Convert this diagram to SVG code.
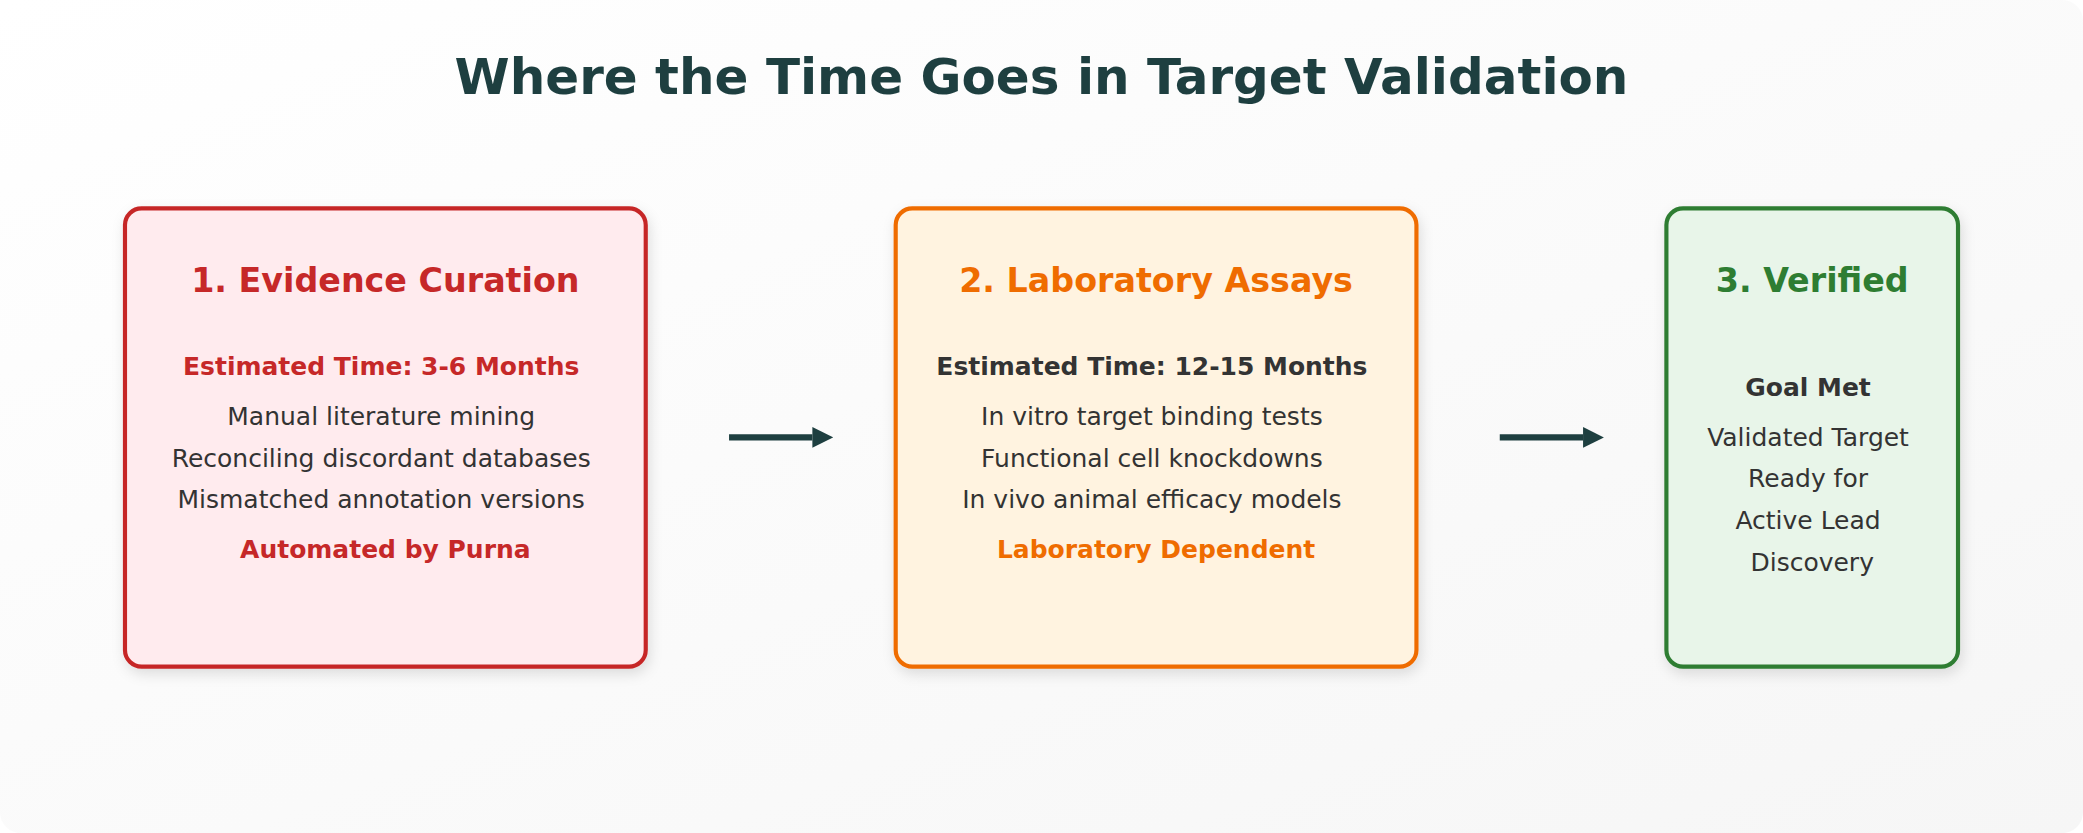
<svg xmlns="http://www.w3.org/2000/svg" width="2083" height="833" viewBox="0 0 2083 833">
<defs>
<linearGradient id="bg" x1="0" y1="0" x2="1" y2="1">
<stop offset="0" stop-color="#ffffff"/>
<stop offset="1" stop-color="#f6f6f6"/>
</linearGradient>
<filter id="sh" x="-10%" y="-10%" width="125%" height="125%">
<feDropShadow dx="2" dy="5" stdDeviation="6" flood-color="#000" flood-opacity="0.12"/>
</filter>
<marker id="ah" viewBox="0 0 20 20" refX="0" refY="10" markerWidth="20" markerHeight="20" markerUnits="userSpaceOnUse" orient="auto">
<path d="M0,0 L20,10 L0,20 Z" fill="#1e3f40"/>
</marker>
</defs>
<style>
text{font-family:"DejaVu Sans","Liberation Sans",sans-serif;text-anchor:middle}
.title{font-size:48px;font-weight:bold;fill:#1e3f40}
.h{font-size:32px;font-weight:bold}
.b{font-size:24px;font-weight:bold}
.t{font-size:24px;fill:#333333}
.dark{fill:#333333}
.box{stroke-width:4;filter:url(#sh)}
.conn{stroke:#1e3f40;stroke-width:6;fill:none}
</style>
<rect x="0" y="0" width="2083" height="833" fill="#ffffff"/>
<g transform="scale(1.0415)">
<rect x="0" y="0" width="2000" height="800" rx="20" fill="url(#bg)"/>
<text class="title" x="1000" y="90">Where the Time Goes in Target Validation</text>

<g id="connectors">
<line class="conn" x1="700" y1="420" x2="780" y2="420" marker-end="url(#ah)"/>
<line class="conn" x1="1440" y1="420" x2="1520" y2="420" marker-end="url(#ah)"/>
</g>

<g id="node1">
<rect class="box" x="120" y="200" width="500" height="440" rx="16" fill="#ffebee" stroke="#c62828"/>
<text class="h" x="370" y="280" fill="#c62828">1. Evidence Curation</text>
<text class="b" x="366" y="360" fill="#c62828">Estimated Time: 3-6 Months</text>
<text class="t" x="366" y="408">Manual literature mining</text>
<text class="t" x="366" y="448">Reconciling discordant databases</text>
<text class="t" x="366" y="488">Mismatched annotation versions</text>
<text class="b" x="370" y="536" fill="#c62828">Automated by Purna</text>
</g>

<g id="node2">
<rect class="box" x="860" y="200" width="500" height="440" rx="16" fill="#fff3e0" stroke="#ef6c00"/>
<text class="h" x="1110" y="280" fill="#ef6c00">2. Laboratory Assays</text>
<text class="b dark" x="1106" y="360">Estimated Time: 12-15 Months</text>
<text class="t" x="1106" y="408">In vitro target binding tests</text>
<text class="t" x="1106" y="448">Functional cell knockdowns</text>
<text class="t" x="1106" y="488">In vivo animal efficacy models</text>
<text class="b" x="1110" y="536" fill="#ef6c00">Laboratory Dependent</text>
</g>

<g id="node3">
<rect class="box" x="1600" y="200" width="280" height="440" rx="16" fill="#e8f5e9" stroke="#2e7d32"/>
<text class="h" x="1740" y="280" fill="#2e7d32">3. Verified</text>
<text class="b dark" x="1736" y="380">Goal Met</text>
<text class="t" x="1736" y="428">Validated Target</text>
<text class="t" x="1736" y="468">Ready for</text>
<text class="t" x="1736" y="508">Active Lead</text>
<text class="t" x="1740" y="548">Discovery</text>
</g>
</g>
</svg>
